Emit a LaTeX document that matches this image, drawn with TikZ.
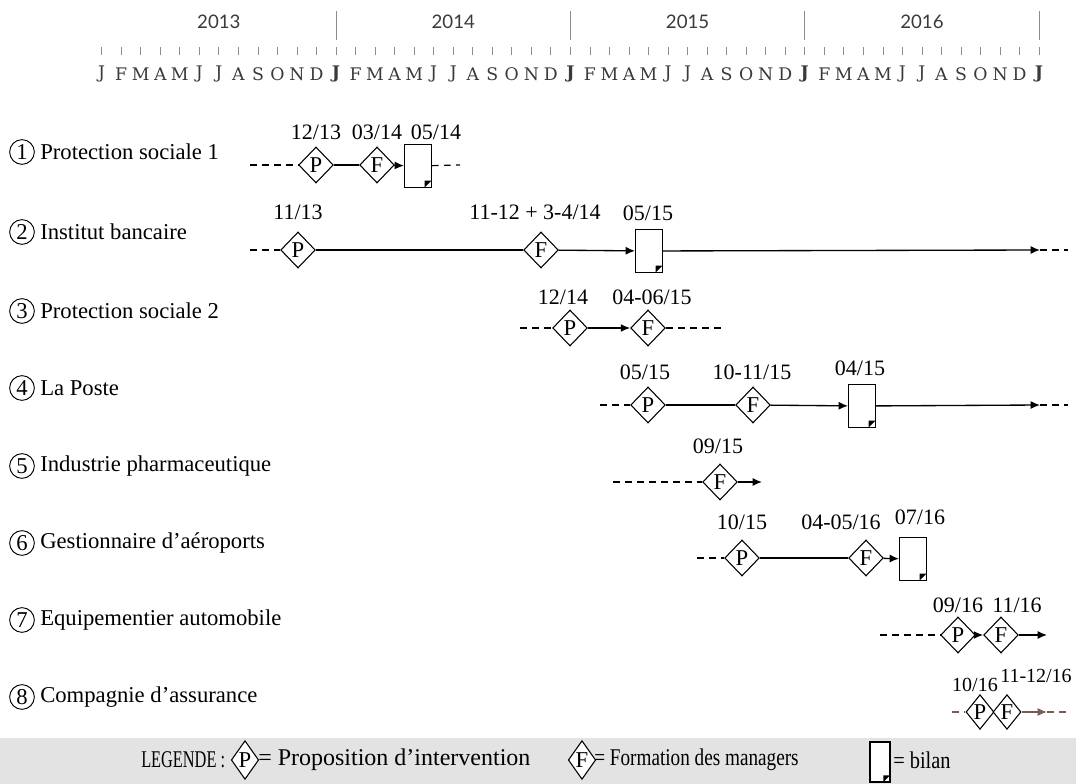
\documentclass[tikz,border=0pt]{standalone}
\usepackage{fontspec}
\usepackage{graphicx}
\setmainfont{Liberation Serif}
\newfontfamily\yearfont{Lato}
\newfontfamily\monthfont{DejaVu Serif}
\usetikzlibrary{shapes.geometric,arrows.meta}
\definecolor{tickgray}{HTML}{8c8c8c}
\definecolor{monthgray}{HTML}{3a3a3a}
\definecolor{legendgray}{HTML}{e3e3e3}
\definecolor{lastbrown}{HTML}{7b5b57}

\begin{document}
\begin{tikzpicture}[x=0.75pt,y=-0.75pt,
  every node/.style={font=\fontsize{17}{20}\selectfont,inner sep=0pt},
  etape/.style={draw,diamond,minimum width=26pt,minimum height=27pt,line width=0.8pt,fill=white},
  etapeb/.style={etape,minimum width=21pt,minimum height=26pt},
  bilan/.style={draw,rectangle,minimum width=20pt,minimum height=32pt,line width=1pt,fill=white,
    path picture={\fill[black] ([xshift=-5pt]path picture bounding box.south east)
      -- ([yshift=5pt]path picture bounding box.south east)
      -- ([shift={(-5pt,5pt)}]path picture bounding box.south east) -- cycle;}},
  num/.style={draw,circle,minimum size=18.5pt,line width=0.7pt},
  date/.style={font=\fontsize{16.5}{19}\selectfont},
  mois/.style={font=\monthfont\fontsize{13}{15}\selectfont,text=monthgray},
  annee/.style={font=\yearfont\fontsize{14}{16}\selectfont,text=monthgray},
  legtxt/.style={anchor=west,font=\fontsize{18}{20}\selectfont},
  trait/.style={line width=1pt},
  pointille/.style={line width=0.9pt,dash pattern=on 5pt off 4pt},
  fleche/.style={-{Latex[length=7pt,width=6pt]}}]
\useasboundingbox (0,0) rectangle (1076,784);

% axe du temps
\foreach \k in {0,...,48}
  \draw[tickgray,line width=0.6pt] (101.7+19.53*\k,47) -- (101.7+19.53*\k,55);
\foreach \an in {1,2,3,4}
  \draw[tickgray,line width=0.8pt] (101.7+234.36*\an,11) -- (101.7+234.36*\an,40);
\foreach \y [count=\an from 0] in {2013,2014,2015,2016}
  \node[annee] (y\an) at (218.9+234.36*\an,22) {\y};
\foreach \an in {0,1,2,3}
  \foreach \m [count=\k from 0] in {J,F,M,A,M,J,J,A,S,O,N,D}
    \node[mois] (m\an-\k) at (101.7+234.36*\an+19.53*\k,74) {\ifnum\k=0 \ifnum\an>0 \bfseries\fi\fi\m};
\node[mois,font=\monthfont\bfseries\fontsize{13}{15}\selectfont] (m4-0) at (1039,74) {J};

% 1
\node[num] (n1) at (22,152) {1};
\node[anchor=west] (t1) at (40,152) {Protection sociale 1};
\coordinate (a1) at (250,165);
\node[etape] (p1) at (316,165) {P};
\node[etape] (f1) at (377,165) {F};
\node[bilan] (b1) at (418,166) {};
\coordinate (z1) at (460,165);
\draw[pointille] (a1) -- (p1);
\draw[trait] (p1) -- (f1);
\draw[trait,fleche] (f1) -- (b1);
\draw[pointille] (b1) -- (z1);
\node[date] (d1p) at (316,132) {12/13};
\node[date] (d1f) at (377,132) {03/14};
\node[date] (d1b) at (436,132) {05/14};

% 2
\node[num] (n2) at (22,232) {2};
\node[anchor=west] (t2) at (40,232) {Institut bancaire};
\coordinate (a2) at (250,250);
\node[etape] (p2) at (298,250) {P};
\node[etape] (f2) at (541,250) {F};
\node[bilan] (b2) at (649,251) {};
\coordinate (e2) at (1040,250);
\coordinate (z2) at (1068,250);
\draw[pointille] (a2) -- (p2);
\draw[trait] (p2) -- (f2);
\draw[trait,fleche] (f2) -- (b2);
\draw[trait,fleche] (b2) -- (e2);
\draw[pointille] (e2) -- (z2);
\node[date] (d2p) at (298,212) {11/13};
\node[date] (d2f) at (535,212) {11-12 + 3-4/14};
\node[date] (d2b) at (648,213) {05/15};

% 3
\node[num] (n3) at (22,311) {3};
\node[anchor=west] (t3) at (40,311) {Protection sociale 2};
\coordinate (a3) at (520,328);
\node[etape] (p3) at (570,328) {P};
\node[etape] (f3) at (648,328) {F};
\coordinate (z3) at (725,328);
\draw[pointille] (a3) -- (p3);
\draw[trait,fleche] (p3) -- (f3);
\draw[pointille] (f3) -- (z3);
\node[date] (d3p) at (563,297) {12/14};
\node[date] (d3f) at (652,297) {04-06/15};

% 4
\node[num] (n4) at (22,388) {4};
\node[anchor=west] (t4) at (40,388) {La Poste};
\coordinate (a4) at (600,405);
\node[etape] (p4) at (648,405) {P};
\node[etape] (f4) at (753,405) {F};
\node[bilan] (b4) at (862,406) {};
\coordinate (e4) at (1040,405);
\coordinate (z4) at (1068,405);
\draw[pointille] (a4) -- (p4);
\draw[trait] (p4) -- (f4);
\draw[trait,fleche] (f4) -- (b4);
\draw[trait,fleche] (b4) -- (e4);
\draw[pointille] (e4) -- (z4);
\node[date] (d4p) at (645,372) {05/15};
\node[date] (d4f) at (752,372) {10-11/15};
\node[date] (d4b) at (860,368) {04/15};

% 5
\node[num] (n5) at (22,466) {5};
\node[anchor=west] (t5) at (40,466) {Industrie pharmaceutique};
\coordinate (a5) at (613,482);
\node[etape] (f5) at (720,482) {F};
\coordinate (e5) at (762,482);
\draw[pointille] (a5) -- (f5);
\draw[trait,fleche] (f5) -- (e5);
\node[date] (d5f) at (718,446) {09/15};

% 6
\node[num] (n6) at (22,543) {6};
\node[anchor=west] (t6) at (40,543) {Gestionnaire d’aéroports};
\coordinate (a6) at (697,558);
\node[etape] (p6) at (742,558) {P};
\node[etape] (f6) at (866,558) {F};
\node[bilan] (b6) at (913,559) {};
\draw[pointille] (a6) -- (p6);
\draw[trait] (p6) -- (f6);
\draw[trait,fleche] (f6) -- (b6);
\node[date] (d6p) at (742,522) {10/15};
\node[date] (d6f) at (841,522) {04-05/16};
\node[date] (d6b) at (920,517) {07/16};

% 7
\node[num] (n7) at (22,620) {7};
\node[anchor=west] (t7) at (40,620) {Equipementier automobile};
\coordinate (a7) at (880,635);
\node[etape] (p7) at (958,635) {P};
\node[etape] (f7) at (1001,635) {F};
\coordinate (e7) at (1047,635);
\draw[pointille] (a7) -- (p7);
\draw[trait,fleche] (p7) -- (f7);
\draw[trait,fleche] (f7) -- (e7);
\node[date] (d7p) at (958,605) {09/16};
\node[date] (d7f) at (1017,605) {11/16};

% 8
\node[num] (n8) at (22,697) {8};
\node[anchor=west] (t8) at (40,697) {Compagnie d’assurance};
\coordinate (a8) at (952,712);
\node[etapeb] (p8) at (980,712) {P};
\node[etapeb] (f8) at (1007,712) {F};
\coordinate (e8) at (1047,712);
\coordinate (z8) at (1068,712);
\draw[pointille,lastbrown] (a8) -- (p8);
\draw[trait,fleche,lastbrown] (f8) -- (e8);
\draw[pointille,lastbrown] (e8) -- (z8);
\node[date,font=\fontsize{15}{18}\selectfont] (d8p) at (975,685) {10/16};
\node[date,font=\fontsize{15}{18}\selectfont] (d8f) at (1036,676) {11-12/16};

% legende
\fill[legendgray] (0,738) rectangle (1076,784);
\node[legtxt] (leg) at (141,760) {\scalebox{0.68}[1]{LEGENDE :}};
\node[etape,minimum width=16pt,minimum height=29pt] (legp) at (245,760) {P};
\node[legtxt] (legpt) at (258,760) {= Proposition d’intervention};
\node[etape,minimum width=16pt,minimum height=29pt] (legf) at (582,760) {F};
\node[legtxt] (legft) at (594,760) {\scalebox{0.8}[1]{= Formation des managers}};
\node[bilan,minimum width=15pt,minimum height=30pt] (legb) at (880,762) {};
\node[legtxt] (legbt) at (893,760) {\scalebox{0.85}[1]{= bilan}};
\end{tikzpicture}
\end{document}
